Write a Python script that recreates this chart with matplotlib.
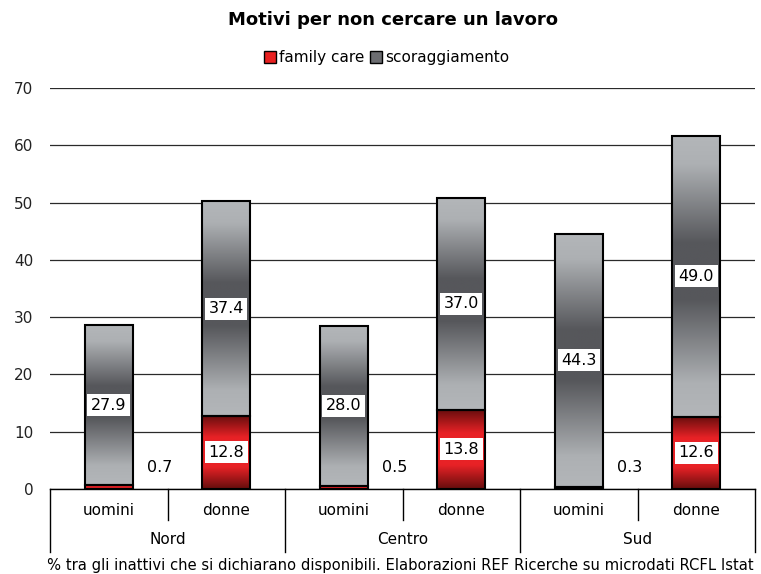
import numpy as np
import matplotlib.pyplot as plt
from matplotlib.colors import LinearSegmentedColormap
from matplotlib.patches import Patch
import matplotlib.transforms as mtransforms

# dati
gruppi = ["Nord", "Centro", "Sud"]
sessi = ["uomini", "donne"]
family_care = [0.7, 12.8, 0.5, 13.8, 0.3, 12.6]
scoraggiamento = [27.9, 37.4, 28.0, 37.0, 44.3, 49.0]

plt.rcParams['font.family'] = ['DejaVu Sans']

# gradienti verticali (scuro al centro per il grigio, chiaro al centro per il rosso)
cmap_grigio = LinearSegmentedColormap.from_list(
    "grigio", [(0.0, "#b3b6b9"), (0.1, "#adb0b3"), (0.38, "#56575b"),
               (0.58, "#56575b"), (0.88, "#adb0b3"), (1.0, "#b3b6b9")])
cmap_rosso = LinearSegmentedColormap.from_list(
    "rosso", [(0.0, "#650d0d"), (0.3, "#e82226"), (0.7, "#e82226"),
              (1.0, "#650d0d")])
grad = np.linspace(0, 1, 256).reshape(-1, 1)

fig = plt.figure(figsize=(7.61, 5.74), dpi=100)
ax = fig.add_axes([50 / 761, 85 / 574, 705 / 761, 401 / 574])

ax.set_xlim(-0.5, 5.5)
ax.set_ylim(0, 70)
ax.set_yticks(range(0, 71, 10))
ax.yaxis.grid(True, color="#2a2a2a", linewidth=0.9)
ax.set_axisbelow(True)
for s in ["top", "right", "left", "bottom"]:
    ax.spines[s].set_visible(False)
ax.tick_params(axis="y", length=0, pad=12, labelsize=11, colors="#222222")
ax.set_xticks([])

larghezza = 0.41


def barra(x, y0, h, cmap):
    ax.imshow(grad, cmap=cmap, aspect="auto", zorder=3, origin="upper",
              interpolation="bilinear",
              extent=[x - larghezza / 2, x + larghezza / 2, y0, y0 + h])
    ax.bar(x, h, bottom=y0, width=larghezza, facecolor="none",
           edgecolor="black", linewidth=1.5, zorder=4)


for i in range(6):
    barra(i, 0, family_care[i], cmap_rosso)
    barra(i, family_care[i], scoraggiamento[i], cmap_grigio)
    box = dict(facecolor="white", edgecolor="none", pad=2.5)
    ax.text(i, family_care[i] + scoraggiamento[i] / 2, f"{scoraggiamento[i]:.1f}",
            ha="center", va="center", fontsize=11.5, bbox=box, zorder=5)
    if family_care[i] > 5:
        ax.text(i, family_care[i] / 2, f"{family_care[i]:.1f}",
                ha="center", va="center", fontsize=11.5, bbox=box, zorder=5)
    else:
        ax.text(i + 0.43, 3.8, f"{family_care[i]:.1f}",
                ha="center", va="center", fontsize=11.5, zorder=5)

ax.set_xlim(-0.5, 5.5)
ax.set_ylim(0, 70)

# asse x a due livelli
tr = mtransforms.blended_transform_factory(ax.transData, ax.transAxes)
ax.plot([-0.5, 5.5], [0, 0], transform=tr, color="black", lw=1, clip_on=False)
for i in range(6):
    ax.text(i, -0.054, sessi[i % 2], transform=tr, ha="center", va="center",
            fontsize=11)
for g, nome in enumerate(gruppi):
    ax.text(2 * g + 0.5, -0.127, nome, transform=tr, ha="center", va="center",
            fontsize=11)
    ax.plot([2 * g + 0.5] * 2, [0, -0.078], transform=tr, color="black",
            lw=1, clip_on=False)
for xb in [-0.5, 1.5, 3.5, 5.5]:
    ax.plot([xb, xb], [0, -0.156], transform=tr, color="black", lw=1,
            clip_on=False)

fig.text(0.517, 0.965, "Motivi per non cercare un lavoro", ha="center",
         va="center", fontsize=13, fontweight="bold")
maniglie = [Patch(facecolor="#e82020", edgecolor="black", label="family care"),
            Patch(facecolor="#6c6d71", edgecolor="black", label="scoraggiamento")]
fig.legend(handles=maniglie, loc="center", bbox_to_anchor=(0.508, 0.899), ncol=2,
           frameon=False, fontsize=11, handlelength=0.8, handleheight=0.8,
           handletextpad=0.2, columnspacing=0.4)
fig.text(47 / 761, 0.014,
         "% tra gli inattivi che si dichiarano disponibili. Elaborazioni REF Ricerche su microdati RCFL Istat",
         ha="left", va="center", fontsize=10.6)

fig.savefig("out.png", dpi=100)
